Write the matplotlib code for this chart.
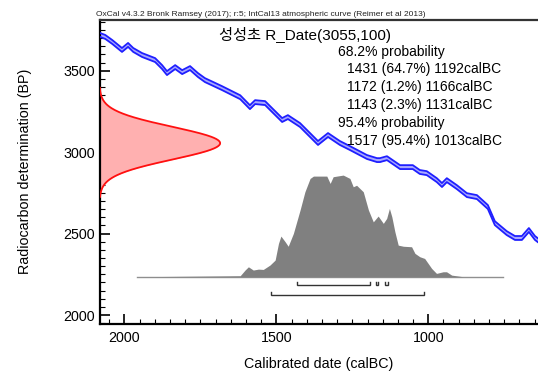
import numpy as np
import matplotlib
matplotlib.use("Agg")
import matplotlib.pyplot as plt
from matplotlib.ticker import MultipleLocator

# ---------------- data ----------------
# IntCal13 calibration curve (calBC year, BP)
cal_years = [2080, 2063, 2040, 2008, 1988, 1971, 1942, 1899, 1876, 1860, 1833, 1810,
             1784, 1758, 1735, 1679, 1619, 1587, 1570, 1537, 1521, 1481, 1462, 1422,
             1363, 1330, 1291, 1258, 1202, 1169, 1159, 1136, 1093, 1051, 1028, 1005,
             972, 955, 939, 906, 873, 840, 804, 781, 742, 715, 692, 669, 649, 640]
cal_bp = [3719, 3707, 3676, 3627, 3658, 3627, 3596, 3565, 3522, 3485, 3522, 3491,
          3516, 3473, 3442, 3393, 3337, 3276, 3307, 3301, 3271, 3197, 3215, 3166,
          3056, 3105, 3056, 3025, 2970, 2951, 2951, 2963, 2908, 2908, 2878, 2871,
          2828, 2798, 2828, 2785, 2736, 2724, 2663, 2564, 2503, 2473, 2473, 2522, 2473, 2460]
cal_sigma = 12

# R_Date measurement
r_mean = 3055
r_sd = 100

# calibrated (posterior) probability, relative
post_years = [1959, 1619, 1603, 1592, 1576, 1559, 1543, 1521, 1504, 1493, 1485, 1471,
              1461, 1444, 1422, 1406, 1389, 1378, 1334, 1323, 1313, 1280, 1258, 1247,
              1236, 1214, 1197, 1181, 1165, 1148, 1137, 1128, 1120, 1110, 1099, 1082,
              1055, 1044, 1028, 1012, 989, 973, 951, 940, 923, 885, 753]
post_prob = [0.0, 0.01, 0.066, 0.098, 0.066, 0.075, 0.072, 0.115, 0.164, 0.328, 0.40, 0.344,
             0.30, 0.426, 0.656, 0.836, 0.967, 0.99, 0.99, 0.918, 0.984, 1.0, 0.967, 0.885,
             0.90, 0.836, 0.656, 0.54, 0.597, 0.525, 0.574, 0.672, 0.59, 0.443, 0.311, 0.30,
             0.295, 0.23, 0.197, 0.18, 0.082, 0.033, 0.049, 0.049, 0.016, 0.0, 0.0]

ranges_68 = [(1431, 1192), (1172, 1166), (1143, 1131)]
ranges_95 = [(1517, 1013)]

title = "성성초 R_Date(3055,100)"
header = "OxCal v4.3.2 Bronk Ramsey (2017); r:5; IntCal13 atmospheric curve (Reimer et al 2013)"
range_lines = [("68.2% probability", 0),
               ("1431 (64.7%) 1192calBC", 1),
               ("1172 (1.2%) 1166calBC", 1),
               ("1143 (2.3%) 1131calBC", 1),
               ("95.4% probability", 0),
               ("1517 (95.4%) 1013calBC", 1)]
x_ticks = [2000, 1500, 1000]
y_ticks = [2000, 2500, 3000, 3500]

# ---------------- plot ----------------
W, H = 538, 374
plt.rcParams['font.family'] = ['Liberation Sans', 'Noto Sans CJK KR', 'DejaVu Sans']
fig = plt.figure(figsize=(W / 100, H / 100), dpi=100)
ax = fig.add_axes([99.5 / W, (H - 324) / H, (W - 99.5) / W, (324 - 19.5) / H])
ax.set_xlim(2082, 639)
ax.set_ylim(1945, 3814)

# calibration curve
cy = np.array(cal_years)
cb = np.array(cal_bp)
ax.fill_between(cy, cb - cal_sigma, cb + cal_sigma, color='#a8a8ff', lw=0, zorder=2)
ax.plot(cy, cb + cal_sigma, color='#1f1fff', lw=1.3, zorder=3)
ax.plot(cy, cb - cal_sigma, color='#1f1fff', lw=1.3, zorder=3)

# radiocarbon date distribution on y axis
yy = np.linspace(r_mean - 3.3 * r_sd, r_mean + 3.4 * r_sd, 300)
dens = np.exp(-0.5 * ((yy - r_mean) / r_sd) ** 2)
x0 = 2082
xx = x0 - 397 * dens
ax.fill_betweenx(yy, xx, x0, color='#ffb0b0', lw=0, zorder=2)
ax.plot(xx, yy, color='#ff1010', lw=1.3, zorder=3)

# posterior distribution
base = 2235
height = 624
py = np.array(post_years)
pp = np.array(post_prob)
ax.plot([py[0], py[-1]], [base, base], color='#909090', lw=1.0, zorder=2)
ax.fill_between(py, base, base + height * pp, color='#808080', lw=0, zorder=3)

# range brackets
def bracket(a, b, level):
    ax.plot([a, a, b, b], [level + 20, level, level, level + 20], color='#333333',
            lw=1.0, zorder=4, solid_joinstyle='miter')

for a, b in ranges_68:
    bracket(a, b, 2184)
for a, b in ranges_95:
    bracket(a, b, 2123)

# axes styling
ax.spines['right'].set_visible(False)
for s in ['left', 'bottom', 'top']:
    ax.spines[s].set_linewidth(1.6)
ax.spines['top'].set_color('#333333')
ax.set_xticks(x_ticks)
ax.set_yticks(y_ticks)
ax.xaxis.set_minor_locator(MultipleLocator(50))
ax.yaxis.set_minor_locator(MultipleLocator(50))
ax.tick_params(which='major', direction='in', length=7, width=1.2, labelsize=10.3,
               colors='black')
ax.tick_params(which='minor', direction='in', length=3.5, width=0.8)
ax.tick_params(axis='x', pad=5)
ax.tick_params(axis='y', pad=3)
ax.tick_params(top=False, right=False, which='both')

ax.set_xlabel("Calibrated date (calBC)", fontsize=10.3, labelpad=9)
ax.set_ylabel("Radiocarbon determination (BP)", fontsize=10.3, labelpad=23)

# texts
fig.text(96 / W, 1 - 16.5 / H, header, fontsize=6.0, ha='left', va='baseline', color='#222222')
fig.text(305 / W, 1 - 40 / H, title, fontsize=11, ha='center', va='baseline')
baselines = [56, 73, 91, 109, 127, 145]
for (txt, ind), bl in zip(range_lines, baselines):
    fig.text((338 + 9 * ind) / W, 1 - bl / H, txt, fontsize=10, ha='left', va='baseline')

fig.savefig("out.png", dpi=100)
